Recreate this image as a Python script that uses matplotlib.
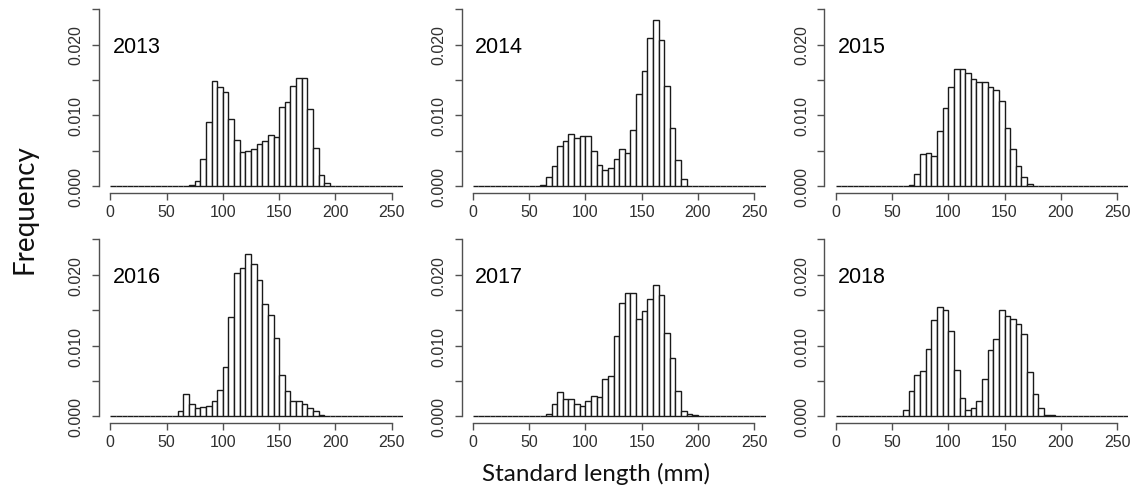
import numpy as np
import matplotlib
matplotlib.use("Agg")
import matplotlib.pyplot as plt

# ---- data: density per 5-mm bin (bins from 0 to 260 mm) ----
years = ["2013", "2014", "2015", "2016", "2017", "2018"]
bin_width = 5
bin_min, bin_max = 0, 260

# first bin start (mm) of the non-zero run for each year
start_2013 = 70
freq_2013 = [0.00014, 0.00075, 0.0038, 0.0090, 0.0148, 0.0140, 0.0133, 0.0095,
             0.0065, 0.0048, 0.0049, 0.0052, 0.0059, 0.0064, 0.0072, 0.0069,
             0.0112, 0.0118, 0.0141, 0.0152, 0.0152, 0.0109, 0.0053, 0.0015,
             0.0004]
start_2014 = 60
freq_2014 = [0.00015, 0.0012, 0.0028, 0.0057, 0.0064, 0.0074, 0.0068, 0.0071,
             0.0071, 0.0050, 0.0029, 0.0022, 0.0025, 0.0038, 0.0052, 0.0047,
             0.0079, 0.0130, 0.0163, 0.0209, 0.0234, 0.0206, 0.0141, 0.0082,
             0.0037, 0.0010]
start_2015 = 65
freq_2015 = [0.0002, 0.0017, 0.0045, 0.0046, 0.0043, 0.0077, 0.0110, 0.0140,
             0.0166, 0.0166, 0.0160, 0.0151, 0.0147, 0.0147, 0.0140, 0.0136,
             0.0120, 0.0082, 0.0052, 0.0028, 0.0013, 0.0003]
start_2016 = 60
freq_2016 = [0.0007, 0.0031, 0.0018, 0.0011, 0.0013, 0.0014, 0.0022, 0.0037,
             0.0070, 0.0140, 0.0202, 0.0210, 0.0229, 0.0216, 0.0193, 0.0159,
             0.0143, 0.0111, 0.0058, 0.0035, 0.0021, 0.0021, 0.0018, 0.0011,
             0.0007, 0.0002]
start_2017 = 65
freq_2017 = [0.0003, 0.0017, 0.0034, 0.0024, 0.0024, 0.0017, 0.0014, 0.0022,
             0.0028, 0.0027, 0.0052, 0.0057, 0.0114, 0.0160, 0.0174, 0.0174,
             0.0138, 0.0149, 0.0166, 0.0185, 0.0172, 0.0118, 0.0083, 0.0035,
             0.0008, 0.0003, 0.0002]
start_2018 = 60
freq_2018 = [0.0009, 0.0035, 0.0058, 0.0064, 0.0095, 0.0136, 0.0155, 0.0150,
             0.0120, 0.0066, 0.0026, 0.0009, 0.0012, 0.0022, 0.0053, 0.0093,
             0.0109, 0.0150, 0.0142, 0.0137, 0.0131, 0.0117, 0.0063, 0.0032,
             0.0011, 0.0002, 0.0002]

starts = [start_2013, start_2014, start_2015, start_2016, start_2017, start_2018]
freqs = [freq_2013, freq_2014, freq_2015, freq_2016, freq_2017, freq_2018]

x_ticks = [0, 50, 100, 150, 200, 250]
y_ticks = [0.0, 0.005, 0.010, 0.015, 0.020, 0.025]
y_labels = ["0.000", "", "0.010", "", "0.020", ""]

# ---- figure ----
W, H = 1132, 489
fig = plt.figure(figsize=(W / 100, H / 100), dpi=100)

axis_col = "#505050"
text_col = "#303030"
tick_font = ["Liberation Sans", "DejaVu Sans"]

lefts_px = [99, 461.5, 824.4]
bottoms_px = [194, 424.3]
w_px, h_px = 304.0, 190.9

edges = np.arange(bin_min, bin_max + bin_width, bin_width)

for i, (yr, st, fr) in enumerate(zip(years, starts, freqs)):
    r, c = divmod(i, 3)
    ax = fig.add_axes([lefts_px[c] / W, 1 - bottoms_px[r] / H, w_px / W, h_px / H])
    heights = np.zeros(len(edges) - 1)
    k0 = (st - bin_min) // bin_width
    heights[k0:k0 + len(fr)] = fr
    ax.bar(edges[:-1], heights, width=bin_width, align="edge",
           facecolor="white", edgecolor="#1a1a1a", linewidth=1.0)
    ax.set_xlim(-10, 260)
    ax.set_ylim(-0.001, 0.026)
    for s in ("top", "right"):
        ax.spines[s].set_visible(False)
    for s in ("left", "bottom"):
        ax.spines[s].set_color(axis_col)
        ax.spines[s].set_linewidth(1.0)
    ax.spines["left"].set_bounds(0, 0.025)
    ax.spines["bottom"].set_bounds(0, 250)
    ax.set_xticks(x_ticks)
    ax.set_xticklabels([str(t) for t in x_ticks], family=tick_font,
                       fontsize=11.5, color=text_col)
    ax.set_yticks(y_ticks)
    ax.set_yticklabels(y_labels, family=tick_font, fontsize=11.5,
                       color=text_col, rotation=90, va="center")
    ax.tick_params(axis="both", length=5, width=1.0, color=axis_col)
    ax.tick_params(axis="x", pad=3)
    ax.tick_params(axis="y", pad=6)
    ax.text(2, 0.0197, yr, family=tick_font, fontsize=15.5, color="black",
            ha="left", va="center")

fig.text(596 / W, 1 - 474 / H, "Standard length (mm)", family=["Lato", "DejaVu Sans"],
         fontsize=17.5, ha="center", va="center", color="#111111")
fig.text(25 / W, 1 - 209 / H, "Frequency", family=["Lato", "DejaVu Sans"],
         fontsize=20, ha="center", va="center", rotation=90, color="#111111")

fig.savefig("out.png", dpi=100)
